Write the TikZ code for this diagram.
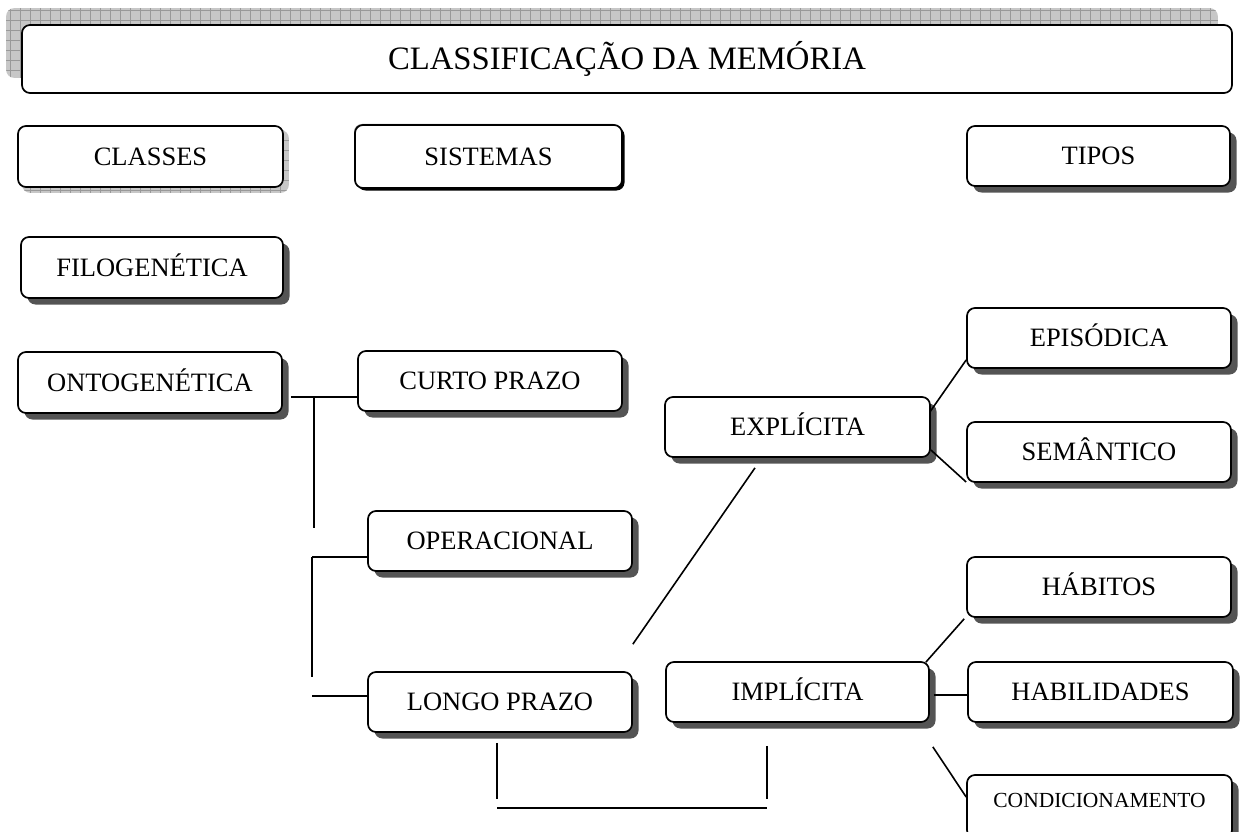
\documentclass[tikz,border=0pt]{standalone}
\usepackage{fontspec}
\setmainfont{Liberation Serif}
\usetikzlibrary{shadows,backgrounds,calc}
\newcommand{\lblfont}{\fontsize{26.5}{30}\selectfont}
\newcommand{\ttlfont}{\fontsize{32.7}{36}\selectfont}
\newcommand{\smlfont}{\fontsize{21.5}{24}\selectfont}
\tikzset{
  box/.style={draw=black, line width=1.7pt, rounded corners=8pt, fill=white,
    inner sep=0pt, align=center, font=\lblfont, text height=17.5pt, text depth=0pt},
  dshadow/.style={drop shadow={shadow xshift=6.5pt, shadow yshift=-6.5pt, fill=black!67, opacity=1}},
  conn/.style={line width=1.6pt, draw=black},
  gridfill/.style={fill=black!22},
  gridline/.style={draw=black!40, line width=0.7pt},
}
\begin{document}
\begin{tikzpicture}[x=1pt, y=-1pt]
\useasboundingbox (0,0) rectangle (1240,832);
\clip (0,0) rectangle (1240,832);

% nodes
\node[box, font=\ttlfont, text height=21.6pt, minimum width=1210pt, minimum height=68pt] (title) at (627,59) {CLASSIFICAÇÃO DA MEMÓRIA};
\node[box, minimum width=265pt, minimum height=61pt] (classes) at (150.5,156.5) {CLASSES};
\node[box, minimum width=263pt, minimum height=60pt, dshadow] (tipos) at (1098.5,156) {TIPOS};
\node[box, dshadow, minimum width=262pt, minimum height=61pt] (filo) at (152,267.5) {FILOGENÉTICA};
\node[box, dshadow, minimum width=264pt, minimum height=61pt] (onto) at (150,382.5) {ONTOGENÉTICA};
\node[box, dshadow, minimum width=264pt, minimum height=60pt] (curto) at (490,381) {CURTO PRAZO};
\node[box, dshadow, minimum width=264pt, minimum height=60pt] (oper) at (500,541) {OPERACIONAL};
\node[box, dshadow, minimum width=264pt, minimum height=60pt] (longo) at (500,702) {LONGO PRAZO};
\node[box, dshadow, minimum width=265pt, minimum height=60pt] (expl) at (797.5,427) {EXPLÍCITA};
\node[box, dshadow, minimum width=263pt, minimum height=60pt] (impl) at (797.5,692) {IMPLÍCITA};
\node[box, dshadow, minimum width=264pt, minimum height=60pt] (epis) at (1099,338) {EPISÓDICA};
\node[box, dshadow, minimum width=264pt, minimum height=60pt] (sem) at (1099,452) {SEMÂNTICO};
\node[box, dshadow, minimum width=264pt, minimum height=60pt] (hab) at (1099,587) {HÁBITOS};
\node[box, dshadow, minimum width=265pt, minimum height=60pt] (habil) at (1100.5,692) {HABILIDADES};
\node[box, dshadow, font=\smlfont, text height=14.2pt, minimum width=265pt, minimum height=63pt] (cond) at (1099.5,806.5) {\raisebox{6.5pt}{CONDICIONAMENTO}};

% SISTEMAS with embossed edge
\fill[black!45, rounded corners=8pt] (354,124) rectangle (621,187);
\fill[black, rounded corners=8pt] (357.5,127.5) rectangle (624.5,190.5);
\node[box, minimum width=267pt, minimum height=63pt] (sist) at (488.5,156.5) {SISTEMAS};

% grid shadows
\begin{pgfonlayer}{background}
  \begin{scope}
    \clip[rounded corners=8pt] ([shift={(-15,-16)}]title.north west) rectangle ([shift={(-15,-16)}]title.south east);
    \fill[gridfill] (0,0) rectangle (1240,100);
    \draw[gridline, step=10pt] (0,0) grid (1240,100);
  \end{scope}
  \begin{scope}
    \clip[rounded corners=8pt] ([shift={(5,5)}]classes.north west) rectangle ([shift={(5,5)}]classes.south east);
    \fill[gridfill] (0,110) rectangle (300,200);
    \draw[gridline, step=10pt] (0,110) grid (300,200);
  \end{scope}
\end{pgfonlayer}

% connectors
\draw[conn] ([shift={(8,14.5)}]onto.east) -- ([shift={(0,16)}]curto.west);
\draw[conn] ([shift={(31,14.5)}]onto.east) -- ([shift={(31,145.5)}]onto.east);
\draw[conn] ([shift={(-55,16)}]oper.west) -- ([shift={(0,16)}]oper.west);
\draw[conn] ([shift={(-55,16)}]oper.west) -- ([shift={(-55,-25)}]longo.west);
\draw[conn] ([shift={(-55,-6)}]longo.west) -- ([shift={(0,-6)}]longo.west);
\draw[conn] ([shift={(0,-27)}]longo.north east) -- ([shift={(-42.5,10)}]expl.south);
\draw[conn] ([shift={(-3,10)}]longo.south) -- ([shift={(-3,66)}]longo.south);
\draw[conn] ([shift={(-3,75)}]longo.south) -- ([shift={(-30.5,85)}]impl.south);
\draw[conn] ([shift={(-30.5,23)}]impl.south) -- ([shift={(-30.5,76)}]impl.south);
\draw[conn] ([shift={(-1,-15)}]expl.east) -- ([shift={(0,22)}]epis.west);
\draw[conn] ([shift={(0,23)}]expl.east) -- ([shift={(0,30)}]sem.west);
\draw[conn] ([shift={(-4,1)}]impl.north east) -- ([shift={(-2,1)}]hab.south west);
\draw[conn] ([shift={(4,3)}]impl.east) -- ([shift={(0,3)}]habil.west);
\draw[conn] ([shift={(3,24)}]impl.south east) -- ([shift={(0,-9.5)}]cond.west);
\end{tikzpicture}
\end{document}
